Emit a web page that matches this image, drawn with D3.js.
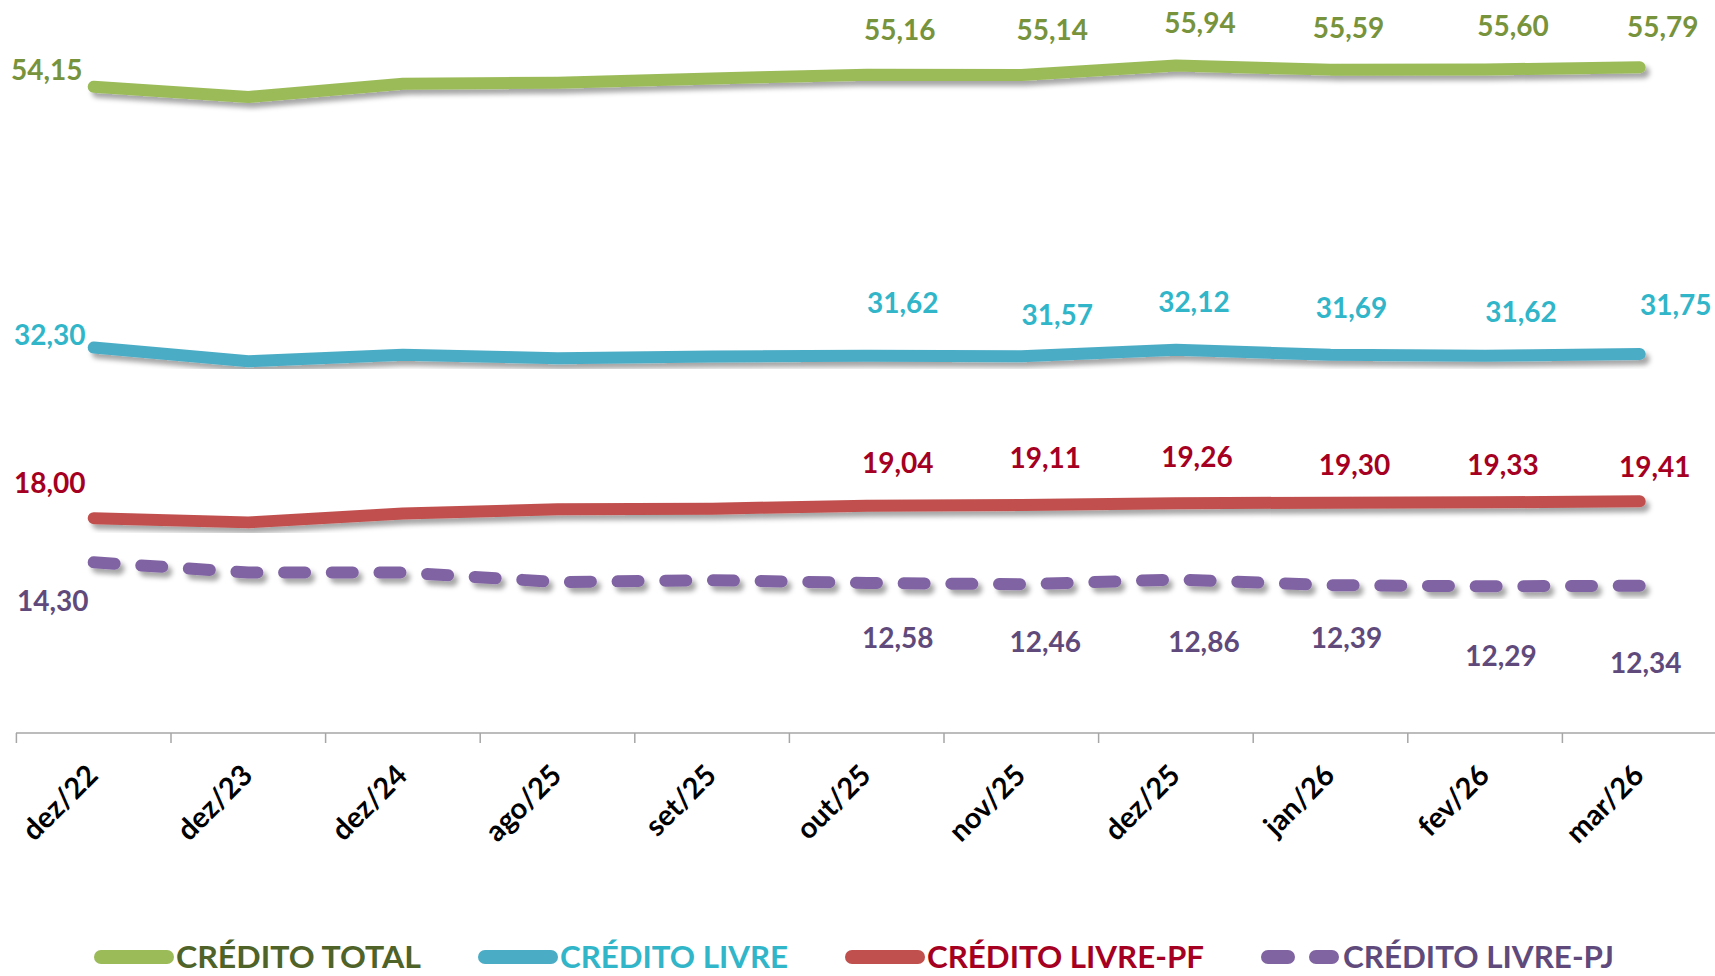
<!DOCTYPE html>
<html>
<head>
<meta charset="utf-8">
<script src="https://cdn.jsdelivr.net/npm/d3@7"></script>
<style>
  html, body { margin: 0; padding: 0; background: #fff; }
  svg { display: block; font-family: "Lato", "Open Sans", sans-serif; }
</style>
</head>
<body>
<svg id="chart" width="1715" height="976"></svg>
<script>
// data (values without a label are estimated)
var categories = ["dez/22", "dez/23", "dez/24", "ago/25", "set/25", "out/25", "nov/25", "dez/25", "jan/26", "fev/26", "mar/26"];
var creditoTotal = [54.15, 53.30, 54.40, 54.50, 54.85, 55.16, 55.14, 55.94, 55.59, 55.60, 55.79];
var creditoLivre = [32.30, 31.15, 31.70, 31.40, 31.55, 31.62, 31.57, 32.12, 31.69, 31.62, 31.75];
var creditoLivrePF = [18.00, 17.65, 18.40, 18.75, 18.80, 19.04, 19.11, 19.26, 19.30, 19.33, 19.41];
var creditoLivrePJ = [14.30, 13.45, 13.45, 12.65, 12.80, 12.58, 12.46, 12.86, 12.39, 12.29, 12.34];
var seriesNames = ["CRÉDITO TOTAL", "CRÉDITO LIVRE", "CRÉDITO LIVRE-PF", "CRÉDITO LIVRE-PJ"];
var labelledIdx = [0, 5, 6, 7, 8, 9, 10];

// label nudges (dx, dy from the point), one per labelled point
var nudges = [
    [[-47, -7], [33, -35], [31, -35], [24, -32], [18, -32], [28, -34], [23, -30]],
    [[-44, -3], [36, -43], [36, -31], [18, -38], [21, -37], [36, -34], [36, -39]],
    [[-44, -25], [31, -33], [24, -37], [21, -36], [24, -28], [18, -27], [15, -24]],
    [[-41, 49], [31, 65], [24, 68], [28, 72], [16, 63], [16, 80], [6, 87]]
];
// legend text widths as drawn in the picture
var legendWidths = [245, 228, 277, 271];

var series = [
    { name: seriesNames[0], values: creditoTotal, line: "#9BBB59", label: "#77933C", legend: "#4F6228", dashed: false },
    { name: seriesNames[1], values: creditoLivre, line: "#4BACC6", label: "#31B5C9", legend: "#31B5C9", dashed: false },
    { name: seriesNames[2], values: creditoLivrePF, line: "#C0504D", label: "#A50021", legend: "#A50021", dashed: false },
    { name: seriesNames[3], values: creditoLivrePJ, line: "#8064A2", label: "#604A7B", legend: "#604A7B", dashed: true }
];

var svg = d3.select("#chart");
var axisY = 733;

var x = d3.scaleBand().domain(categories).range([16.4, 1717]).padding(0);
var y = d3.scaleLinear().domain([0, 60]).range([axisY, 17]);
function cx(c) { return x(c) + x.bandwidth() / 2; }

var defs = svg.append("defs");
defs.append("filter")
    .attr("id", "shadow")
    .attr("x", "-5%").attr("y", "-50%").attr("width", "110%").attr("height", "200%")
    .append("feDropShadow")
    .attr("dx", 4).attr("dy", 5).attr("stdDeviation", 2.5)
    .attr("flood-color", "#000").attr("flood-opacity", 0.35);

// axis
svg.append("line")
    .attr("x1", 16).attr("x2", 1715)
    .attr("y1", axisY).attr("y2", axisY)
    .attr("stroke", "#A6A6A6").attr("stroke-width", 1.5);

var boundaries = categories.map(function (c) { return x(c); }).concat([x.range()[1]]);
svg.append("g").selectAll("line")
    .data(boundaries)
    .enter().append("line")
    .attr("x1", function (d) { return d; }).attr("x2", function (d) { return d; })
    .attr("y1", axisY).attr("y2", axisY + 10)
    .attr("stroke", "#A6A6A6").attr("stroke-width", 1.5);

svg.append("g").selectAll("text")
    .data(categories)
    .enter().append("text")
    .attr("transform", function (d) { return "translate(" + (cx(d) + 6) + "," + (axisY + 44) + ") rotate(-45)"; })
    .attr("text-anchor", "end")
    .attr("font-size", 29)
    .attr("font-weight", "bold")
    .attr("fill", "#000")
    .text(function (d) { return d; });

// lines
var line = d3.line()
    .x(function (d, i) { return cx(categories[i]); })
    .y(function (d) { return y(d); });

svg.append("g").selectAll("path")
    .data(series)
    .enter().append("path")
    .attr("d", function (s) { return line(s.values); })
    .attr("fill", "none")
    .attr("stroke", function (s) { return s.line; })
    .attr("stroke-width", 12)
    .attr("stroke-linecap", "round")
    .attr("stroke-linejoin", "round")
    .attr("filter", "url(#shadow)")
    .each(function (s) {
        if (!s.dashed) return;
        // fit the dash period so the line starts and ends on a dash
        var len = this.getTotalLength();
        var n = Math.round((len - 21) / 47);
        var period = (len - 21) / n;
        d3.select(this).attr("stroke-dasharray", "21 " + (period - 21));
    });

// data labels
series.forEach(function (s, si) {
    svg.append("g").selectAll("text")
        .data(labelledIdx)
        .enter().append("text")
        .attr("x", function (idx, k) { return cx(categories[idx]) + nudges[si][k][0]; })
        .attr("y", function (idx, k) { return y(s.values[idx]) + nudges[si][k][1]; })
        .attr("text-anchor", "middle")
        .attr("font-size", 28)
        .attr("font-weight", "bold")
        .attr("fill", s.label)
        .text(function (idx) { return d3.format(".2f")(s.values[idx]).replace(".", ","); });
});

// legend
var legend = svg.append("g").attr("transform", "translate(0,957)");
var lx = 94;
series.forEach(function (s, i) {
    var item = legend.append("g").attr("transform", "translate(" + lx + ",0)");
    item.append("line")
        .attr("x1", 7).attr("x2", s.dashed ? 71 : 73)
        .attr("y1", 0).attr("y2", 0)
        .attr("stroke", s.line)
        .attr("stroke-width", 14)
        .attr("stroke-linecap", "round")
        .attr("stroke-dasharray", s.dashed ? "20 28" : null);
    item.append("text")
        .attr("x", 82).attr("y", 11)
        .attr("font-size", 30)
        .attr("font-weight", "bold")
        .attr("fill", s.legend)
        .attr("textLength", legendWidths[i])
        .attr("lengthAdjust", "spacingAndGlyphs")
        .text(s.name);
    lx += 82 + legendWidths[i] + 57;
});
</script>
</body>
</html>
